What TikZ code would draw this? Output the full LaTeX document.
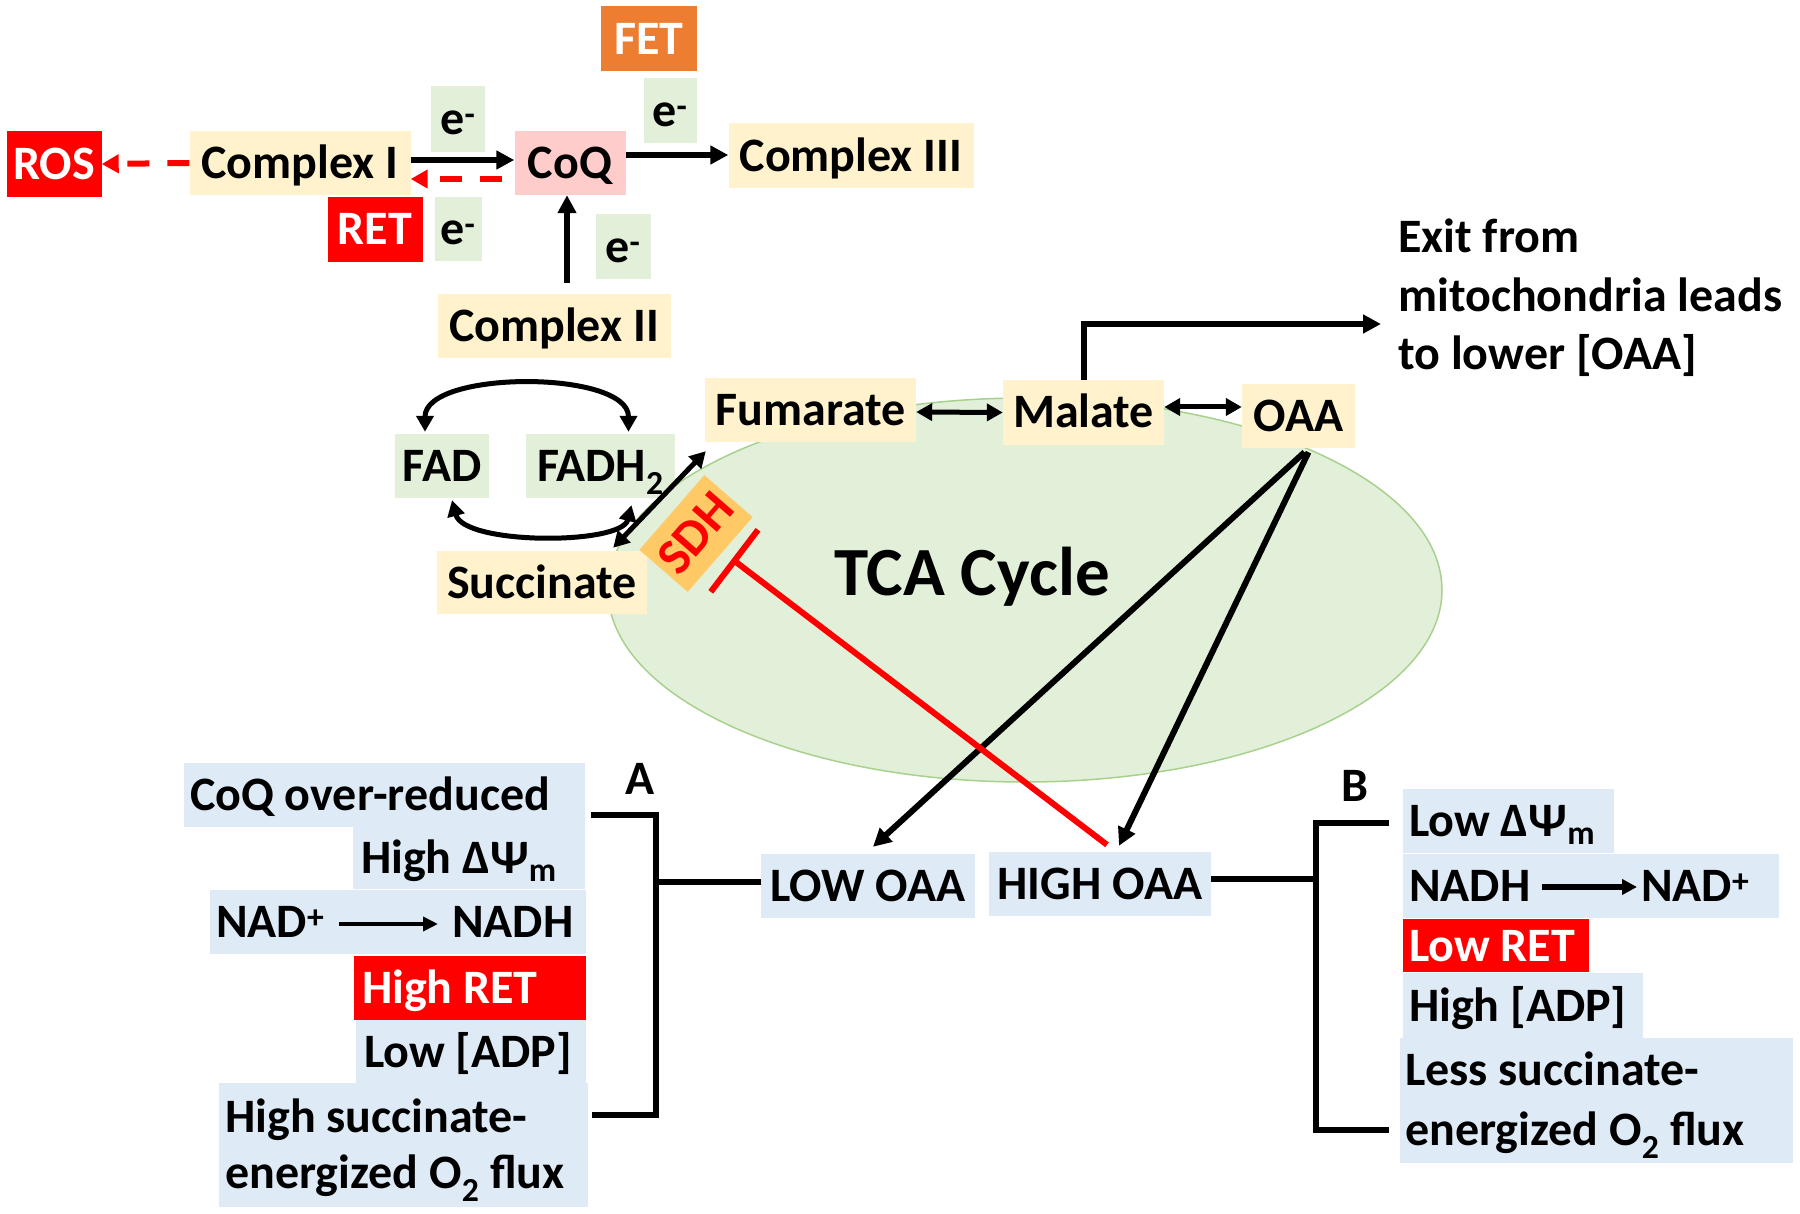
\documentclass[tikz,border=0pt]{standalone}
\usepackage{fontspec}
\setmainfont{Carlito}
\usetikzlibrary{arrows.meta,calc}
\definecolor{beige}{HTML}{FFF2CC}
\definecolor{lgreen}{HTML}{E2F0D9}
\definecolor{lblue}{HTML}{DEEBF7}
\definecolor{lpink}{HTML}{FFCCCC}
\definecolor{fetor}{HTML}{ED7D31}
\definecolor{sdhor}{HTML}{FFC966}
\definecolor{ellb}{HTML}{A9D18E}
\definecolor{rred}{HTML}{FF0000}
\begin{document}
\begin{tikzpicture}[x=1pt,y=-1pt,
  every node/.style={font=\bfseries\fontsize{48}{57}\selectfont, inner sep=0pt},
  txtht/.style={text height=36pt, text depth=5pt},
  beigebox/.style={txtht, fill=beige},
  greenbox/.style={txtht, fill=lgreen},
  bluebox/.style={txtht, fill=lblue},
  pinkbox/.style={txtht, fill=lpink},
  redbox/.style={txtht, fill=rred, text=white},
  orangebox/.style={txtht, fill=fetor, text=white},
  sdhbox/.style={text height=37pt, text depth=5pt, fill=sdhor, text=rred, font=\bfseries\fontsize{51}{60}\selectfont},
  arr/.style={line width=6pt, -{Triangle[length=18pt,width=18pt]}},
  arrthin/.style={line width=4pt, -{Triangle[length=15pt,width=14pt]}},
  dbl/.style={line width=5pt, {Triangle[length=16pt,width=17pt]}-{Triangle[length=16pt,width=17pt]}},
  rdash/.style={draw=rred, line width=6pt, dash pattern=on 22pt off 18pt, -{Triangle[length=17pt,width=18pt]}},
  inh/.style={draw=rred, line width=6pt, -{Bar[width=78pt]}},
  brk/.style={line width=6pt},
  leftbox/.style={align=flush left},
  twoline/.style={anchor=base west, align=flush left}
]
\useasboundingbox (0,0) rectangle (1800,1214);
\fill[white] (0,0) rectangle (1800,1214);

% TCA ellipse
\draw[fill=lgreen, draw=ellb, line width=1.5pt] (1025,590) ellipse [x radius=417pt, y radius=192pt];
\node[anchor=base, font=\bfseries\fontsize{69}{80}\selectfont] (tca) at (972,595) {TCA Cycle};

% ---- electron transport chain ----
\node[redbox, minimum width=95pt, minimum height=66pt] (ros) at (54,164) {ROS};
\node[beigebox, minimum width=221pt, minimum height=64pt] (c1) at (300,163) {Complex I};
\node[pinkbox, minimum width=111pt, minimum height=64pt] (coq) at (570,163) {CoQ};
\node[greenbox, minimum width=54pt, minimum height=66pt] (e1) at (458,119) {e\textsuperscript{-}};
\node[redbox, minimum width=95pt, minimum height=65pt] (ret) at (375,229.5) {RET};
\node[greenbox, minimum width=47pt, minimum height=64pt] (e2) at (458,229) {e\textsuperscript{-}};
\node[orangebox, minimum width=96pt, minimum height=65pt] (fet) at (649,39) {FET};
\node[greenbox, minimum width=53pt, minimum height=65pt] (e3) at (670,111) {e\textsuperscript{-}};
\node[beigebox, minimum width=245pt, minimum height=65pt] (c3) at (851,156) {Complex III};
\node[beigebox, minimum width=233pt, minimum height=64pt] (c2) at (554,326) {Complex II};
\node[greenbox, minimum width=55pt, minimum height=65pt] (e4) at (623,247) {e\textsuperscript{-}};

\draw[arr] ([yshift=3pt]c1.east) -- ([yshift=3pt]coq.west);
\draw[rdash] ([xshift=-12pt,yshift=-16pt]coq.west) -- ([yshift=-16pt]c1.east);
\draw[rdash] (c1.west) -- (ros.east);
\draw[arr] ([yshift=8pt]coq.east) -- ([yshift=1pt]c3.west);
\draw[arr] ($(coq.south |- c2.north)+(-3,-11)$) -- ([xshift=-3pt]coq.south);

% ---- TCA intermediates ----
\node[beigebox, minimum width=211pt, minimum height=64pt] (fum) at (810.5,410) {Fumarate};
\node[beigebox, minimum width=161pt, minimum height=65pt] (mal) at (1083.5,412.5) {Malate};
\node[beigebox, minimum width=113pt, minimum height=64pt] (oaa) at (1298.5,416) {OAA};
\node[greenbox, minimum width=94pt, minimum height=64pt] (fad) at (442,466) {FAD};
\node[greenbox, minimum width=149pt, minimum height=64pt] (fadh) at (600.5,466) {FADH\textsubscript{2}};
\node[beigebox, minimum width=210pt, minimum height=63pt] (suc) at (542,582.5) {Succinate};
\node[sdhbox, rotate=49, minimum width=99pt, minimum height=64pt] (sdh) at (696,533.5) {SDH};

\draw[dbl] ([yshift=-2pt]fum.east) -- (mal.west);
\draw[dbl] ([yshift=5.5pt]mal.east) -- ([yshift=9pt]oaa.west);
\coordinate (exitpt) at (1381,324);
\draw[arr] (mal.north) |- (exitpt);
\node[twoline, font=\bfseries\fontsize{48}{58.5}\selectfont] (exit) at (1398,370) {Exit from\\mitochondria leads\\to lower [OAA]};

\draw[dbl] ([xshift=-17pt,yshift=2pt]fad.north) .. controls +(0,-62) and +(0,-62) .. ([xshift=28pt,yshift=2pt]fadh.north);
\draw[dbl] ([xshift=10pt,yshift=-2pt]fad.south) .. controls +(12,45) and +(-10,40) .. ([xshift=31pt,yshift=-7pt]fadh.south);
\draw[dbl] ([xshift=-34pt,yshift=3pt]suc.north east) -- ([xshift=1pt,yshift=-9pt]fum.south west);

% ---- OAA levels ----
\node[bluebox, minimum width=214pt, minimum height=64pt] (loaa) at (868,886) {LOW OAA};
\node[bluebox, minimum width=222pt, minimum height=64pt] (hoaa) at (1100,884) {HIGH OAA};

\coordinate (oaaS) at ($(oaa.south)+(6,4)$);
\draw[arr] (oaaS) -- ([xshift=5pt,yshift=7pt]loaa.north);
\draw[arr] ($(oaaS)+(4,0)$) -- ([xshift=19pt,yshift=6pt]hoaa.north);
\coordinate (sdhT) at (732,559);
\draw[inh] ([xshift=7pt,yshift=7pt]hoaa.north) -- (sdhT);

% ---- A: low OAA consequences ----
\node[bluebox, leftbox, minimum width=401pt, minimum height=64pt, text width=389pt] (coqA) at (384.5,795) {CoQ over-reduced};
\node[bluebox, leftbox, minimum width=232pt, minimum height=62pt, text width=216pt] (dpA) at (469,858) {High ΔΨ\textsubscript{m}};
\node[fill=lblue, minimum width=376pt, minimum height=64pt] (nadA) at (398,922) {};
\node[txtht, anchor=west] (nadpA) at (216,922) {NAD\textsuperscript{+}};
\node[txtht, anchor=west] (nadhA) at (452,922) {NADH};
\draw[arrthin] ([xshift=14pt,yshift=-2pt]nadpA.east) -- ([xshift=-14pt,yshift=-2pt]nadhA.west);
\node[redbox, leftbox, minimum width=232pt, minimum height=64pt, text width=216pt] (retA) at (470,988) {High RET};
\node[bluebox, leftbox, minimum width=230pt, minimum height=63pt, text width=214pt] (adpA) at (471,1051.5) {Low [ADP]};
\node[fill=lblue, minimum width=369pt, minimum height=124pt] (hsA) at (403.5,1145) {};
\node[twoline, font=\bfseries\fontsize{48}{56}\selectfont] (hsAt) at (225,1188) {High succinate-\\energized O\textsubscript{2} flux};

\node (labA) at (640,779) {A};
\coordinate (aT) at (591,815);
\coordinate (aV) at (656,815);
\coordinate (aVb) at (656,1115);
\coordinate (aB) at (592,1115);
\coordinate (aM) at (656,882);
\draw[brk] (aT) -- (aV) -- (aVb) -- (aB);
\draw[brk] (aM) -- (aM -| loaa.west);

% ---- B: high OAA consequences ----
\node[bluebox, leftbox, minimum width=211pt, minimum height=64pt, text width=199pt] (dpB) at (1508.5,821) {Low ΔΨ\textsubscript{m}};
\node[fill=lblue, minimum width=376pt, minimum height=64pt] (nadB) at (1591,886) {};
\node[txtht, anchor=west] (nadhB) at (1409,886) {NADH};
\node[txtht, anchor=west] (nadpB) at (1641,886) {NAD\textsuperscript{+}};
\draw[arr, -{Triangle[length=15pt,width=15pt]}] ([xshift=11pt,yshift=-1pt]nadhB.east) -- ([xshift=-4pt,yshift=-1pt]nadpB.west);
\node[redbox, leftbox, minimum width=186pt, minimum height=53pt, text width=174pt] (retB) at (1496,945.5) {Low RET};
\node[bluebox, leftbox, minimum width=240pt, minimum height=65pt, text width=228pt] (adpB) at (1523,1005.5) {High [ADP]};
\node[fill=lblue, minimum width=393pt, minimum height=125pt] (lsB) at (1596.5,1100.5) {};
\node[twoline, font=\bfseries\fontsize{48}{60}\selectfont] (lsBt) at (1405,1145) {Less succinate-\\energized O\textsubscript{2} flux};

\node (labB) at (1355,786) {B};
\coordinate (bM) at (1316,879);
\coordinate (bT) at (1316,823);
\coordinate (bB) at (1316,1130);
\coordinate (bTe) at (1389,823);
\coordinate (bBe) at (1389,1130);
\draw[brk] (bM -| hoaa.east) -- (bM);
\draw[brk] (bTe) -- (bT) -- (bB) -- (bBe);
\end{tikzpicture}
\end{document}
